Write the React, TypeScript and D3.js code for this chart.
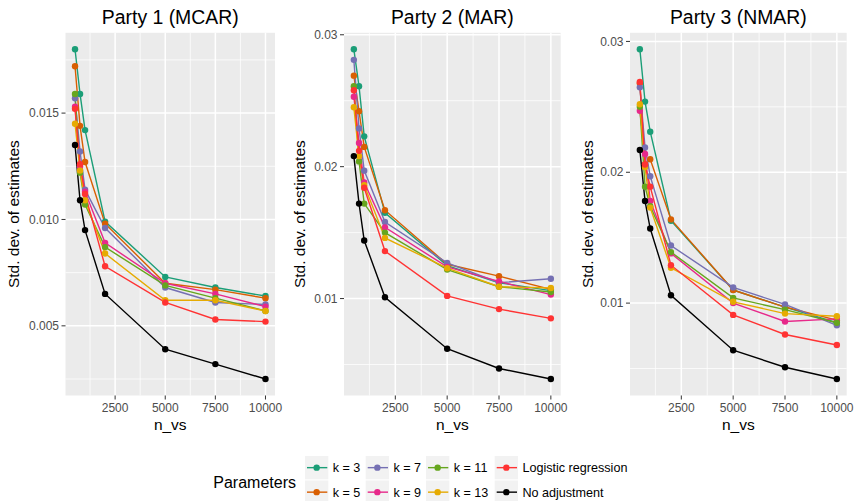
import React from 'react';
import * as d3 from 'd3';

// n_vs values on the x axis
const nVs = [500, 750, 1000, 2000, 5000, 7500, 10000];

const seriesNames = ['k = 3', 'k = 5', 'k = 7', 'k = 9', 'k = 11', 'k = 13', 'Logistic regression', 'No adjustment'];
const seriesColors = ['#1B9E77', '#D95F02', '#7570B3', '#E7298A', '#66A61E', '#E6AB02', '#FF3333', '#000000'];

const panelTitles = ['Party 1 (MCAR)', 'Party 2 (MAR)', 'Party 3 (NMAR)'];

// one row per series, same order as seriesNames
const party1Values = [
  [0.0180, 0.0159, 0.0142, 0.0099, 0.0073, 0.0068, 0.0064],
  [0.0172, 0.0144, 0.0127, 0.0098, 0.0070, 0.0067, 0.0063],
  [0.0157, 0.0132, 0.0114, 0.0096, 0.0068, 0.0061, 0.0060],
  [0.0153, 0.0125, 0.0113, 0.0089, 0.0070, 0.0065, 0.0059],
  [0.0159, 0.0122, 0.0107, 0.0087, 0.0069, 0.0063, 0.0057],
  [0.0145, 0.0123, 0.0109, 0.0084, 0.0062, 0.0062, 0.0057],
  [0.0152, 0.0126, 0.0112, 0.0078, 0.0061, 0.0053, 0.0052],
  [0.0135, 0.0109, 0.0095, 0.0065, 0.0039, 0.0032, 0.0025],
];

const party2Values = [
  [0.0289, 0.0261, 0.0223, 0.0165, 0.0125, 0.0112, 0.0106],
  [0.0269, 0.0242, 0.0215, 0.0167, 0.0126, 0.0117, 0.0107],
  [0.0281, 0.0229, 0.0197, 0.0158, 0.0127, 0.0112, 0.0115],
  [0.0253, 0.0218, 0.0188, 0.0154, 0.0124, 0.0113, 0.0103],
  [0.0261, 0.0204, 0.0172, 0.0150, 0.0122, 0.0109, 0.0105],
  [0.0245, 0.0208, 0.0186, 0.0146, 0.0123, 0.0109, 0.0108],
  [0.0258, 0.0212, 0.0184, 0.0136, 0.0102, 0.0092, 0.0085],
  [0.0208, 0.0172, 0.0144, 0.0101, 0.0062, 0.0047, 0.0039],
];

const party3Values = [
  [0.0294, 0.0254, 0.0231, 0.0163, 0.0110, 0.0097, 0.0085],
  [0.0268, 0.0206, 0.0210, 0.0164, 0.0110, 0.0097, 0.0087],
  [0.0265, 0.0219, 0.0197, 0.0144, 0.0112, 0.0099, 0.0083],
  [0.0247, 0.0214, 0.0178, 0.0138, 0.0100, 0.0086, 0.0088],
  [0.0250, 0.0189, 0.0174, 0.0139, 0.0104, 0.0095, 0.0085],
  [0.0252, 0.0204, 0.0173, 0.0127, 0.0101, 0.0092, 0.0090],
  [0.0269, 0.0206, 0.0189, 0.0129, 0.0091, 0.0076, 0.0068],
  [0.0217, 0.0178, 0.0157, 0.0106, 0.0064, 0.0051, 0.0042],
];

const xTicks = [2500, 5000, 7500, 10000];
const yTicksParty1 = [0.005, 0.010, 0.015];
const yTicksParty23 = [0.01, 0.02, 0.03];

const W = 856;
const H = 501;
const FONT = '"Liberation Sans", Arial, Helvetica, sans-serif';
const panelTop = 32.8;
const panelBottom = 395.5;

const panels = [
  { values: party1Values, left: 65.5, right: 275, yLabelX: 18.5, yTicks: yTicksParty1, fmt: d3.format('.3f') },
  { values: party2Values, left: 344, right: 560.7, yLabelX: 305, yTicks: yTicksParty23, fmt: d3.format('.2f') },
  { values: party3Values, left: 630, right: 846.7, yLabelX: 592.5, yTicks: yTicksParty23, fmt: d3.format('.2f') },
];

function midpoints(ticks: number[]) {
  const step = ticks[1] - ticks[0];
  const out: number[] = [ticks[0] - step / 2];
  ticks.forEach((t) => out.push(t + step / 2));
  return out;
}

function Panel({ p, title }: any) {
  const xExt = d3.extent(nVs) as [number, number];
  const xPad = (xExt[1] - xExt[0]) * 0.05;
  const x = d3.scaleLinear().domain([xExt[0] - xPad, xExt[1] + xPad]).range([p.left, p.right]);

  const all = p.values.flat();
  const yExt = d3.extent(all) as [number, number];
  const yPad = (yExt[1] - yExt[0]) * 0.05;
  const yDom: [number, number] = [yExt[0] - yPad, yExt[1] + yPad];
  const y = d3.scaleLinear().domain(yDom).range([panelBottom, panelTop]);

  const inY = (v: number) => v >= yDom[0] && v <= yDom[1];
  const inX = (v: number) => v >= x.domain()[0] && v <= x.domain()[1];

  const line = d3
    .line<number>()
    .x((_, i) => x(nVs[i]))
    .y((d) => y(d));

  const cx = (p.left + p.right) / 2;
  const cy = (panelTop + panelBottom) / 2;

  return (
    <g>
      <rect x={p.left} y={panelTop} width={p.right - p.left} height={panelBottom - panelTop} fill="#EBEBEB" />
      {midpoints(p.yTicks).filter(inY).map((t) => (
        <line key={'ym' + t} x1={p.left} x2={p.right} y1={y(t)} y2={y(t)} stroke="#fff" strokeWidth={0.75} />
      ))}
      {midpoints(xTicks).filter(inX).map((t) => (
        <line key={'xm' + t} x1={x(t)} x2={x(t)} y1={panelTop} y2={panelBottom} stroke="#fff" strokeWidth={0.75} />
      ))}
      {p.yTicks.map((t: number) => (
        <line key={'yg' + t} x1={p.left} x2={p.right} y1={y(t)} y2={y(t)} stroke="#fff" strokeWidth={1.5} />
      ))}
      {xTicks.map((t) => (
        <line key={'xg' + t} x1={x(t)} x2={x(t)} y1={panelTop} y2={panelBottom} stroke="#fff" strokeWidth={1.5} />
      ))}

      {p.values.map((vals: number[], si: number) => (
        <path key={'l' + si} d={line(vals) || ''} fill="none" stroke={seriesColors[si]} strokeWidth={1.4} />
      ))}
      {p.values.map((vals: number[], si: number) =>
        vals.map((v, i) => <circle key={'c' + si + '-' + i} cx={x(nVs[i])} cy={y(v)} r={3.2} fill={seriesColors[si]} />)
      )}

      {/* y axis */}
      {p.yTicks.map((t: number) => (
        <g key={'yt' + t}>
          <line x1={p.left - 4} x2={p.left} y1={y(t)} y2={y(t)} stroke="#333" strokeWidth={1} />
          <text x={p.left - 6.5} y={y(t)} dy="0.35em" textAnchor="end" fontSize={12} fill="#4D4D4D">
            {p.fmt(t)}
          </text>
        </g>
      ))}
      {/* x axis */}
      {xTicks.map((t) => (
        <g key={'xt' + t}>
          <line x1={x(t)} x2={x(t)} y1={panelBottom} y2={panelBottom + 4} stroke="#333" strokeWidth={1} />
          <text x={x(t)} y={411.7} textAnchor="middle" fontSize={12} fill="#4D4D4D">
            {t}
          </text>
        </g>
      ))}

      <text x={cx} y={24} textAnchor="middle" fontSize={19.4} fill="#000">
        {title}
      </text>
      <text x={cx} y={430} textAnchor="middle" fontSize={15.5} fill="#000">
        n_vs
      </text>
      <text transform={`translate(${p.yLabelX},${cy}) rotate(-90)`} textAnchor="middle" fontSize={15.5} fill="#000">
        Std. dev. of estimates
      </text>
    </g>
  );
}

function Legend() {
  const colX = [305, 365.7, 426, 494.7];
  const rowY = [456, 480.5];
  const key = 23.3;
  return (
    <g>
      <text x={213.3} y={487.8} fontSize={16} fill="#000">
        Parameters
      </text>
      {seriesNames.map((name, i) => {
        const col = Math.floor(i / 2);
        const row = i % 2;
        const kx = colX[col];
        const ky = rowY[row];
        return (
          <g key={name}>
            <rect x={kx} y={ky} width={key} height={key} fill="#F2F2F2" />
            <line x1={kx + 2} x2={kx + key - 1} y1={ky + key / 2} y2={ky + key / 2} stroke={seriesColors[i]} strokeWidth={1.4} />
            <circle cx={kx + key / 2} cy={ky + key / 2} r={3.2} fill={seriesColors[i]} />
            <text x={kx + key + 4.4} y={ky + key / 2} dy="0.36em" fontSize={12.6} fill="#000">
              {name}
            </text>
          </g>
        );
      })}
    </g>
  );
}

export default function App() {
  return (
    <svg
      width={W}
      height={H}
      style={{ position: 'absolute', left: 0, top: 0, background: '#fff' }}
      fontFamily={FONT}
    >
      <rect width={W} height={H} fill="#fff" />
      {panels.map((p, i) => (
        <Panel key={i} p={p} title={panelTitles[i]} />
      ))}
      <Legend />
    </svg>
  );
}
